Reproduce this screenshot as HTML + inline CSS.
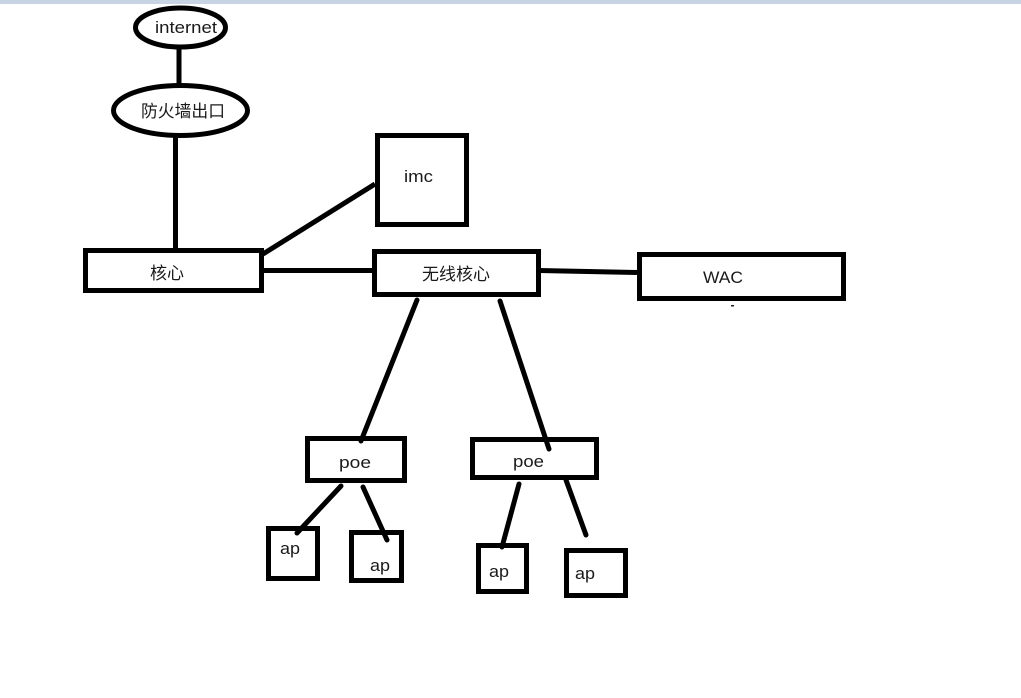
<!DOCTYPE html>
<html><head><meta charset="utf-8"><style>
html,body{margin:0;padding:0;background:#fff}
svg{display:block}
text{font-family:"Liberation Sans","Noto Sans CJK SC",sans-serif;fill:#1a1a1a;font-size:17px}
rect,ellipse{fill:#fff;stroke:#000;stroke-width:5}
line{stroke:#000;stroke-width:5}
.r{stroke-linecap:round}
</style></head><body>
<svg width="1021" height="698" viewBox="0 0 1021 698" xmlns="http://www.w3.org/2000/svg">
<rect x="0" y="0" width="1021" height="4" style="fill:#c8d4e4;stroke:none"/>
<line x1="179" y1="47" x2="179" y2="86"/>
<line x1="175.5" y1="136" x2="175.5" y2="251"/>
<line x1="263" y1="254" x2="375" y2="184"/>
<line x1="262" y1="270.5" x2="374" y2="270.5"/>
<line x1="539" y1="270.5" x2="639" y2="272.5"/>
<ellipse cx="180.5" cy="27.5" rx="45" ry="19.5"/>
<ellipse cx="180.5" cy="110.5" rx="67" ry="25"/>
<rect x="377.5" y="135.5" width="89" height="89"/>
<rect x="85.5" y="250.5" width="176" height="40"/>
<rect x="374.5" y="251.5" width="164" height="43"/>
<rect x="639.5" y="254.5" width="204" height="44"/>
<rect x="307.5" y="438.5" width="97" height="42"/>
<rect x="472.5" y="439.5" width="124" height="38"/>
<rect x="268.5" y="528.5" width="49" height="50"/>
<rect x="351.5" y="532.5" width="50" height="48"/>
<rect x="478.5" y="545.5" width="48" height="46"/>
<rect x="566.5" y="550.5" width="59" height="45"/>
<line x1="417" y1="300" x2="361" y2="441" class="r"/>
<line x1="500" y1="301" x2="549" y2="449" class="r"/>
<line x1="341" y1="486" x2="297" y2="533" class="r"/>
<line x1="363" y1="487" x2="387" y2="540" class="r"/>
<line x1="519" y1="484" x2="502" y2="547" class="r"/>
<line x1="566" y1="480" x2="586" y2="535" class="r"/>
<rect x="731" y="305" width="3" height="1.5" style="fill:#222;stroke:none"/>
<text x="155" y="33" textLength="62" lengthAdjust="spacingAndGlyphs">internet</text>
<text x="141" y="117" textLength="84" lengthAdjust="spacingAndGlyphs">防火墙出口</text>
<text x="404" y="182" textLength="29" lengthAdjust="spacingAndGlyphs">imc</text>
<text x="150" y="279" textLength="34" lengthAdjust="spacingAndGlyphs">核心</text>
<text x="422" y="280" textLength="68" lengthAdjust="spacingAndGlyphs">无线核心</text>
<text x="703" y="283" textLength="40" lengthAdjust="spacingAndGlyphs">WAC</text>
<text x="339" y="468" textLength="32" lengthAdjust="spacingAndGlyphs">poe</text>
<text x="513" y="467" textLength="31" lengthAdjust="spacingAndGlyphs">poe</text>
<text x="280" y="554" textLength="20" lengthAdjust="spacingAndGlyphs">ap</text>
<text x="370" y="571" textLength="20" lengthAdjust="spacingAndGlyphs">ap</text>
<text x="489" y="577" textLength="20" lengthAdjust="spacingAndGlyphs">ap</text>
<text x="575" y="579" textLength="20" lengthAdjust="spacingAndGlyphs">ap</text>
</svg>
</body></html>
